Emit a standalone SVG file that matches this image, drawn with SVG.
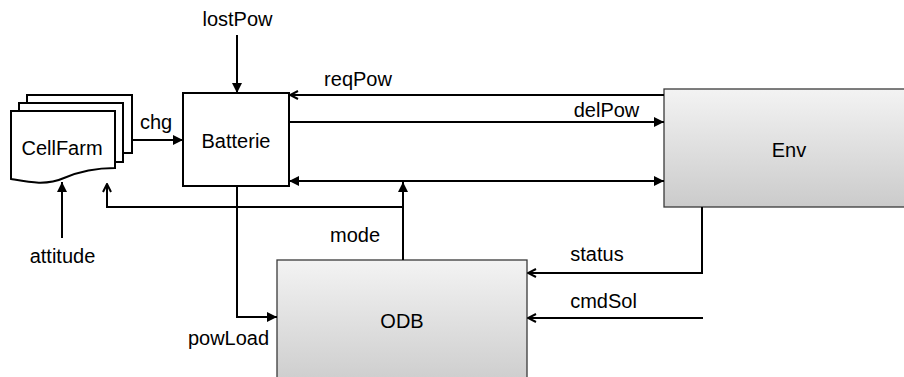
<svg xmlns="http://www.w3.org/2000/svg" width="904" height="377" viewBox="0 0 904 377">
<style>
text{font-family:"Liberation Sans",Arial,sans-serif;font-size:20px;fill:#000;text-anchor:middle}
.ln{fill:none;stroke:#000;stroke-width:2}
.box{fill:#fff;stroke:#000;stroke-width:2}
.gbox{fill:url(#g);stroke:#3a3a3a;stroke-width:1.3}
</style>
<defs>
<linearGradient id="g" x1="0" y1="0" x2="0" y2="1">
<stop offset="0" stop-color="#f3f3f3"/>
<stop offset="1" stop-color="#cbcbcb"/>
</linearGradient>
<marker id="af" viewBox="0 0 10 10" refX="10" refY="5" markerWidth="11" markerHeight="10" markerUnits="userSpaceOnUse" orient="auto-start-reverse">
<path d="M0,0 L10,5 L0,10 z" fill="#000"/>
</marker>
<marker id="ao" viewBox="0 0 10 10" refX="9" refY="5" markerWidth="10" markerHeight="10" markerUnits="userSpaceOnUse" orient="auto">
<path d="M1,1 L9,5 L1,9" fill="none" stroke="#000" stroke-width="2"/>
</marker>
</defs>
<g id="CellFarm">
<rect class="box" x="27" y="95" width="105" height="58"/>
<rect class="box" x="19" y="103" width="104" height="59"/>
<path class="box" d="M11 111 L115 111 L115 168 C92 168 78 172 64 178 C46 186 28 182 11 179 Z"/>
<text x="62" y="155">CellFarm</text>
</g>
<g id="Batterie">
<rect class="box" x="183" y="93" width="106" height="93"/>
<text x="236" y="148">Batterie</text>
</g>
<g id="Env">
<rect class="gbox" x="664" y="89" width="250" height="118"/>
<text x="789" y="157">Env</text>
</g>
<g id="ODB">
<rect class="gbox" x="277" y="260" width="250" height="130"/>
<text x="402" y="328">ODB</text>
</g>
<g id="connectors">
<path class="ln" d="M237 35 L237 93" marker-end="url(#af)"/>
<path class="ln" d="M132 140 L183 140" marker-end="url(#af)"/>
<path class="ln" d="M62 238 L62 182" marker-end="url(#af)"/>
<path class="ln" d="M403 207 L107 207 L107 184" marker-end="url(#ao)"/>
<path class="ln" d="M664 95 L290 95" marker-end="url(#ao)"/>
<path class="ln" d="M289 122 L664 122" marker-end="url(#af)"/>
<path class="ln" d="M289 181 L664 181" marker-start="url(#af)" marker-end="url(#af)"/>
<path class="ln" d="M403 260 L403 182" marker-end="url(#af)"/>
<path class="ln" d="M237 186 L237 317 L277 317" marker-end="url(#af)"/>
<path class="ln" d="M702 207 L702 273 L528 273" marker-end="url(#ao)"/>
<path class="ln" d="M703 318 L528 318" marker-end="url(#ao)"/>
</g>
<g id="labels">
<text x="237.5" y="26">lostPow</text>
<text x="156" y="129">chg</text>
<text x="62.5" y="263">attitude</text>
<text x="358" y="86">reqPow</text>
<text x="606.5" y="117">delPow</text>
<text x="355" y="242">mode</text>
<text x="597" y="261">status</text>
<text x="603.5" y="308">cmdSol</text>
<text x="228.5" y="345">powLoad</text>
</g>
</svg>
